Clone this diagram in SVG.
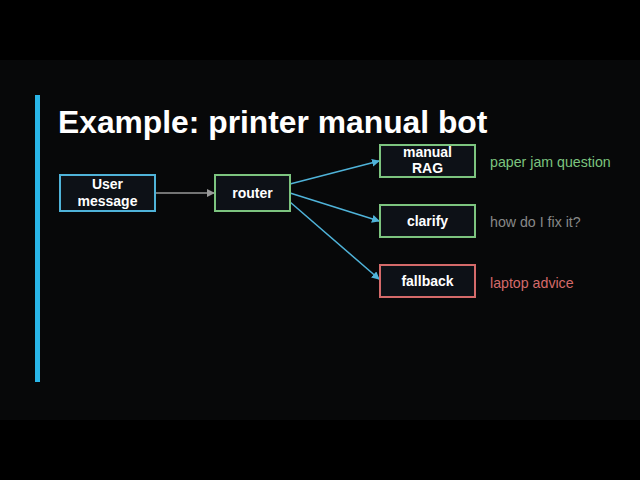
<svg xmlns="http://www.w3.org/2000/svg" width="640" height="480" viewBox="0 0 640 480">
<defs>
<style>
.n{fill:#0d1117;stroke-width:2}
.t{font-family:"Liberation Sans",Arial,sans-serif;font-weight:bold;font-size:14px;fill:#fff;text-anchor:middle}
.l{font-family:"Liberation Sans",Arial,sans-serif;font-size:14.2px}
.c{fill:none;stroke:#4fb3d9;stroke-width:1.5}
</style>
<marker id="ab" markerWidth="8" markerHeight="8" refX="7" refY="4" orient="auto" markerUnits="userSpaceOnUse"><path d="M0,0L8,4L0,8z" fill="#4fb3d9"/></marker>
<marker id="ag" markerWidth="8" markerHeight="8" refX="7" refY="4" orient="auto" markerUnits="userSpaceOnUse"><path d="M0,0L8,4L0,8z" fill="#999"/></marker>
</defs>
<rect width="640" height="480" fill="#000"/>
<rect y="60" width="640" height="360" fill="#070809"/>
<rect x="35" y="95" width="5" height="287" fill="#29b6e8"/>
<text x="58" y="133" font-family="Liberation Sans,Arial,sans-serif" font-weight="bold" font-size="31.8" fill="#fff">Example: printer manual bot</text>
<g id="connectors">
<line x1="155" y1="193" x2="214" y2="193" stroke="#999" stroke-width="1.5" marker-end="url(#ag)"/>
<line class="c" x1="290" y1="184" x2="379" y2="161" marker-end="url(#ab)"/>
<line class="c" x1="290" y1="193" x2="379" y2="221" marker-end="url(#ab)"/>
<line class="c" x1="290" y1="202" x2="379" y2="279" marker-end="url(#ab)"/>
</g>
<g id="user"><rect class="n" x="60" y="175" width="95" height="36" stroke="#4fb3d9"/><text class="t" x="107.5" y="189">User</text><text class="t" x="107.5" y="206">message</text></g>
<g id="router"><rect class="n" x="215" y="175" width="75" height="36" stroke="#7cc47f"/><text class="t" x="252.5" y="198">router</text></g>
<g id="rag"><rect class="n" x="380" y="145" width="95" height="32" stroke="#7cc47f"/><text class="t" x="427.5" y="157">manual</text><text class="t" x="427.5" y="173">RAG</text></g>
<g id="clarify"><rect class="n" x="380" y="205" width="95" height="32" stroke="#7cc47f"/><text class="t" x="427.5" y="226">clarify</text></g>
<g id="fallback"><rect class="n" x="380" y="265" width="95" height="32" stroke="#d46a6a"/><text class="t" x="427.5" y="286">fallback</text></g>
<text class="l" x="490" y="167" fill="#7cc47f">paper jam question</text>
<text class="l" x="490" y="227" fill="#888">how do I fix it?</text>
<text class="l" x="490" y="288" fill="#d46a6a">laptop advice</text>
</svg>
